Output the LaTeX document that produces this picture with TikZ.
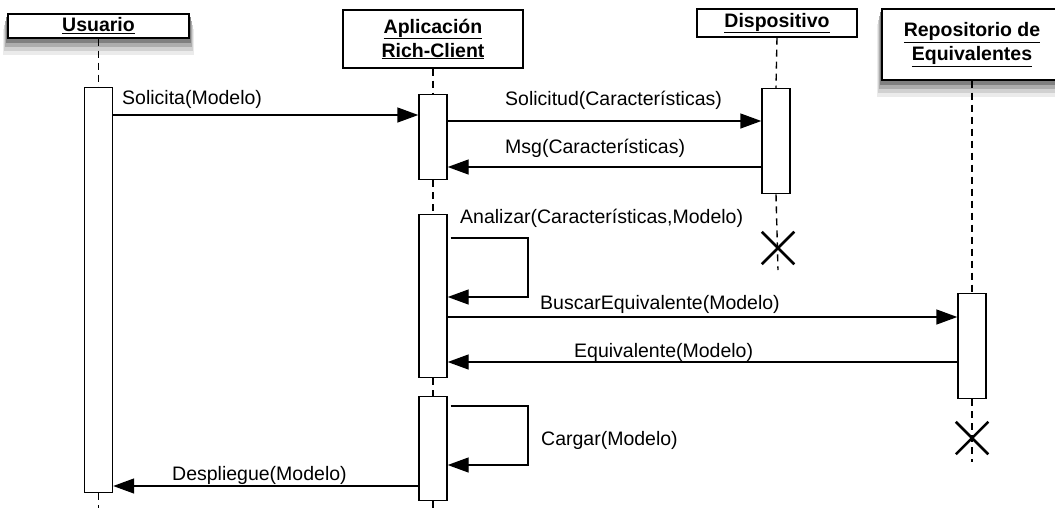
\documentclass[tikz,border=0pt]{standalone}
\usepackage{fontspec}
\setmainfont{Liberation Sans}
\usepackage{tikz}
\usetikzlibrary{arrows.meta, shapes.misc, backgrounds}
\tikzstyle{actor} = [rectangle, draw=black, line width=1.4pt, fill=white, align=center, inner sep=2pt, font=\fontsize{19.5}{24}\selectfont\bfseries]
\tikzstyle{activation} = [rectangle, draw=black, line width=1.4pt, fill=white, minimum width=28pt, anchor=north, inner sep=0pt]
\tikzstyle{lifeline} = [line width=1.4pt, dash pattern=on 7pt off 5pt]
\tikzstyle{arrow} = [line width=1.4pt, -{Triangle[length=21pt, width=15pt]}]
\tikzstyle{msg} = [anchor=base west, inner sep=0pt, font=\fontsize{19.5}{24}\selectfont]
\tikzstyle{destroy} = [cross out, draw=black, line width=2.5pt, minimum size=30pt, inner sep=0pt]

\begin{document}
\begin{tikzpicture}[x=1pt, y=-1pt]
    \useasboundingbox (0,0) rectangle (1055,507);

    % objects
    \node (usuario) [actor, minimum width=181pt, minimum height=24pt] at (98.5,26) {\underline{Usuario}};
    \node (aplicacion) [actor, minimum width=180pt, minimum height=58pt] at (433,39) {\underline{Aplicación}\\\underline{Rich-Client}};
    \node (dispositivo) [actor, minimum width=160pt, minimum height=28pt] at (777,23) {\underline{Dispositivo}};
    \node (repositorio) [actor, minimum width=180pt, minimum height=71pt] at (972,44.5) {\underline{Repositorio de}\\\underline{Equivalentes}};

    % soft shadows
    \begin{scope}[on background layer]
        \foreach \obj in {usuario, repositorio}
            \foreach \s/\w/\c in {16/4/8, 12/3/18, 8/2/32, 4/1/50}
                \fill [black!\c] ([xshift=-\w pt, yshift=-\s pt]\obj.south west) rectangle ([xshift=\w pt, yshift=-\s pt]\obj.north east);
    \end{scope}

    % activations
    \node (usr) [activation, minimum height=405pt] at (98.5,87) {};
    \node (apl1) [activation, minimum height=85pt] at (433,94) {};
    \node (apl2) [activation, minimum height=163pt] at (433,214) {};
    \node (apl3) [activation, minimum height=104pt] at (433,396) {};
    \node (disp) [activation, minimum height=105pt] at (776,88) {};
    \node (rep) [activation, minimum height=105pt] at (972,293) {};

    \coordinate (usrend) at (98.5,510);
    \coordinate (aplend) at (433,510);
    \coordinate (dispend) at (778,270);
    \coordinate (repend) at (972,462);

    % lifelines
    \draw [lifeline] (usuario.south) -- (usr.north);
    \draw [lifeline] (usr.south) -- (usrend);
    \draw [lifeline] (aplicacion.south) -- (apl1.north);
    \draw [lifeline] (apl1.south) -- (apl2.north);
    \draw [lifeline] (apl2.south) -- (apl3.north);
    \draw [lifeline] (apl3.south) -- (aplend);
    \draw [lifeline] (dispositivo.south) -- (disp.north);
    \draw [lifeline] (disp.south) -- (dispend);
    \draw [lifeline] (repositorio.south) -- (rep.north);
    \draw [lifeline] (rep.south) -- (repend);

    \node (dispx) [destroy] at (778,248) {};
    \node (repx) [destroy] at (972,438) {};

    % messages
    \draw [arrow] (usr.east |- 0,115) -- (apl1.west |- 0,115);
    \node (lsolicita) [msg] at (122,104) {Solicita(Modelo)};
    \draw [arrow] (apl1.east |- 0,121) -- (disp.west |- 0,121);
    \node (lsolicitud) [msg] at (505,105) {Solicitud(Características)};
    \draw [arrow] (disp.west |- 0,167) -- (apl1.east |- 0,167);
    \node (lmsg) [msg] at (505,153) {Msg(Características)};
    \draw [arrow] ([xshift=3pt]apl2.east |- 0,238) -| (528,297) -- (apl2.east |- 0,297);
    \node (lanalizar) [msg] at (460,223) {Analizar(Características,Modelo)};
    \draw [arrow] (apl2.east |- 0,317) -- (rep.west |- 0,317);
    \node (lbuscar) [msg] at (540,309) {BuscarEquivalente(Modelo)};
    \draw [arrow] (rep.west |- 0,362) -- (apl2.east |- 0,362);
    \node (lequivalente) [msg] at (574,357) {Equivalente(Modelo)};
    \draw [arrow] ([xshift=3pt]apl3.east |- 0,406) -| (528,465) -- (apl3.east |- 0,465);
    \node (lcargar) [msg] at (541,445) {Cargar(Modelo)};
    \draw [arrow] (apl3.west |- 0,486) -- (usr.east |- 0,486);
    \node (ldespliegue) [msg] at (172,480) {Despliegue(Modelo)};
\end{tikzpicture}
\end{document}
